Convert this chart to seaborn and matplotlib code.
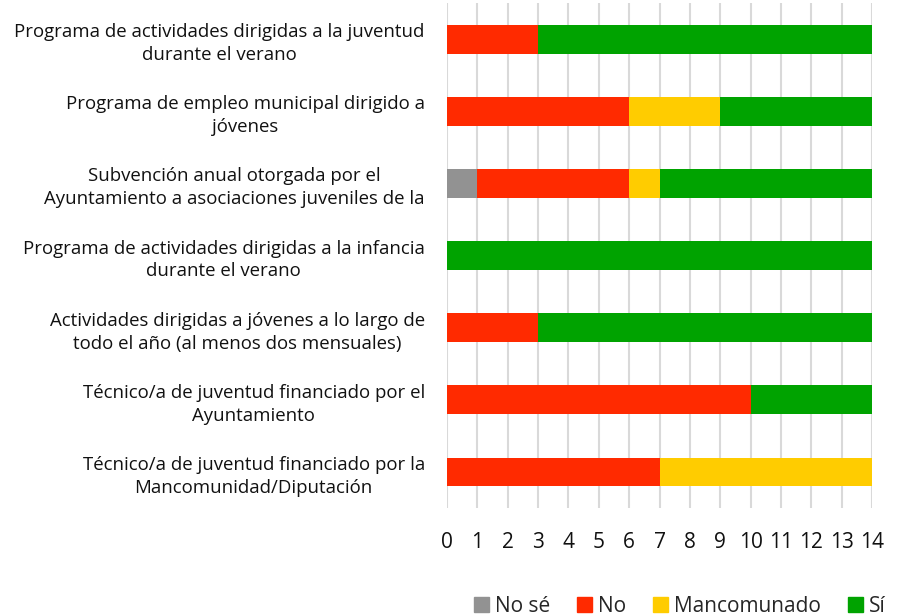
import matplotlib
matplotlib.use('Agg')
import matplotlib.pyplot as plt
import seaborn as sns
import pandas as pd
import numpy as np

# Datos
categorias = [
    'Programa de actividades dirigidas a la juventud\ndurante el verano',
    'Programa de empleo municipal dirigido a\njóvenes',
    'Subvención anual otorgada por el\nAyuntamiento a asociaciones juveniles de la',
    'Programa de actividades dirigidas a la infancia\ndurante el verano',
    'Actividades dirigidas a jóvenes a lo largo de\ntodo el año (al menos dos mensuales)',
    'Técnico/a de juventud financiado por el\nAyuntamiento',
    'Técnico/a de juventud financiado por la\nMancomunidad/Diputación',
]
no_se = [0, 0, 1, 0, 0, 0, 0]
no = [3, 6, 5, 0, 3, 10, 7]
mancomunado = [0, 3, 1, 0, 0, 0, 7]
si = [11, 5, 7, 14, 11, 4, 0]

series = ['No sé', 'No', 'Mancomunado', 'Sí']
colores = ['#929292', '#ff2a00', '#ffcc00', '#00a300']

df = pd.DataFrame({'cat': categorias, 'No sé': no_se, 'No': no,
                   'Mancomunado': mancomunado, 'Sí': si})
acum = df[series].cumsum(axis=1)

sns.set_style('white')
plt.rcParams['font.family'] = ['Open Sans', 'DejaVu Sans']

fig, ax = plt.subplots(figsize=(8.97, 6.15), dpi=100)
fig.subplots_adjust(left=447/897, right=872/897, top=1-3/615, bottom=1-508/615)

# barras apiladas: se dibuja primero la suma total y encima las parciales
for s, c in zip(reversed(series), reversed(colores)):
    sns.barplot(x=acum[s], y=df['cat'], color=c, width=0.4, ax=ax, saturation=1,
                orient='h', zorder=2, linewidth=0)

ax.set_xlim(0, 14)
ax.set_xticks(range(0, 15))
ax.xaxis.grid(True, color='#d9d9d9', linewidth=1.5, zorder=0)
ax.set_axisbelow(True)
for sp in ax.spines.values():
    sp.set_visible(False)
ax.tick_params(axis='x', length=0, pad=17, labelsize=15, labelcolor='#111111')
ax.tick_params(axis='y', length=0, pad=16, labelsize=13.4, labelcolor='#111111')
for t in ax.get_yticklabels():
    t.set_multialignment('center')
    t.set_linespacing(1.35)
ax.set_xlabel('')
ax.set_ylabel('')

handles = [plt.Rectangle((0, 0), 1, 1, color=c) for c in colores]
fig.legend(handles, series, loc='lower center', bbox_to_anchor=(680/897, -0.033),
           ncol=4, frameon=False, fontsize=15, handlelength=0.7, handleheight=0.7,
           handletextpad=0.3, columnspacing=1.3)

plt.savefig('out.png', dpi=100)
